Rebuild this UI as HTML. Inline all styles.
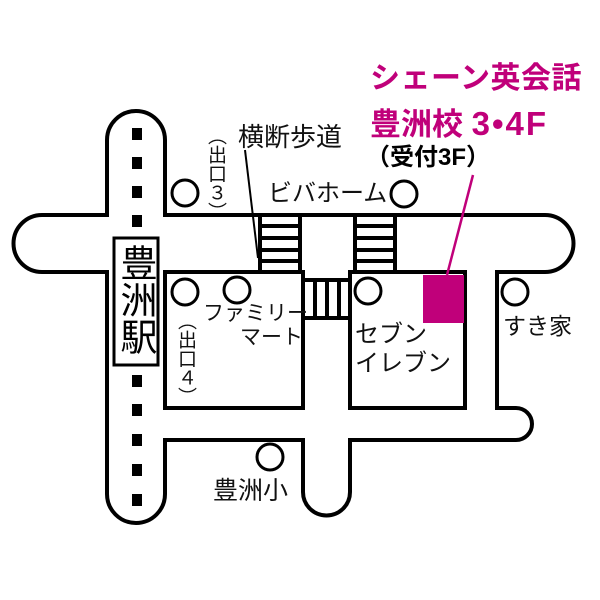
<!DOCTYPE html>
<html><head><meta charset="utf-8"><style>
body{margin:0;background:#fff;}
.w{position:relative;width:600px;height:600px;overflow:hidden;font-family:"Liberation Sans","Noto Sans CJK JP",sans-serif;}
.t{position:absolute;white-space:nowrap;color:#111;line-height:1;}
.v{writing-mode:vertical-rl;text-orientation:upright;}
</style></head><body><div class="w">
<svg width="600" height="600" style="position:absolute;left:0;top:0">
<g fill="none" stroke="#000" stroke-width="4">
<path d="M165 215 V140 A29 29 0 0 0 107 140 V215 H42 A28.5 28.5 0 0 0 42 272 H107 V494 A29 29 0 0 0 165 494 V440 H303 V492 A23.5 23.5 0 0 0 350 492 V440 H516 A16 16 0 0 0 516 408 H497 V272 H545 A28.5 28.5 0 0 0 545 215 Z"/>
<rect x="165" y="272" width="138" height="136"/>
<rect x="350" y="272" width="115" height="136"/>
<rect x="260" y="215" width="40" height="57"/>
<rect x="355" y="215" width="40" height="57"/>
<path d="M260 226H300M260 238H300M260 250H300M260 261H300M355 226H395M355 238H395M355 250H395M355 261H395"/>
<rect x="303" y="280" width="47" height="38"/>
<path d="M315 280V318M327 280V318M339 280V318"/>
<circle cx="185" cy="193" r="13" stroke-width="3"/>
<circle cx="404" cy="194" r="13" stroke-width="3"/>
<circle cx="185" cy="292" r="13" stroke-width="3"/>
<circle cx="237" cy="290" r="13" stroke-width="3"/>
<circle cx="368" cy="291" r="13" stroke-width="3"/>
<circle cx="515" cy="292" r="13" stroke-width="3"/>
<circle cx="270" cy="457" r="13" stroke-width="3"/>
</g>
<g fill="#000">
<rect x="132" y="128" width="10" height="12"/>
<rect x="132" y="157" width="10" height="12"/>
<rect x="132" y="186" width="10" height="12"/>
<rect x="132" y="215" width="10" height="12"/>
<rect x="132" y="375" width="10" height="12"/>
<rect x="132" y="404" width="10" height="12"/>
<rect x="132" y="434" width="10" height="12"/>
<rect x="132" y="464" width="10" height="12"/>
<rect x="132" y="494" width="10" height="12"/>
</g>
<rect x="114" y="238" width="44" height="127" fill="#fff" stroke="#000" stroke-width="3"/>
<rect x="423" y="275" width="41" height="48" fill="#c0007a"/>
<line x1="473" y1="175" x2="447" y2="275" stroke="#c0007a" stroke-width="2.5"/>
<line x1="245" y1="150" x2="258" y2="258" stroke="#000" stroke-width="2"/>
</svg>
<div class="t v" style="left:117px;top:244px;font-size:37px;color:#000">豊洲駅</div>
<div class="t" style="left:370px;top:64px;font-size:30px;font-weight:bold;color:#c0007a;letter-spacing:0.5px">シェーン英会話</div>
<div class="t" style="left:370px;top:107px;font-size:31px;font-weight:bold;color:#c0007a">豊洲校 <span style="font-size:33px;letter-spacing:2px">3•4F</span></div>
<div class="t" style="left:366px;top:146px;font-size:24px;font-weight:bold;color:#000">（受付3F）</div>
<div class="t" style="left:238px;top:124px;font-size:26px">横断歩道</div>
<div class="t v" style="left:206px;top:126px;font-size:19px">（出口３）</div>
<div class="t" style="left:268px;top:182px;font-size:24px">ビバホーム</div>
<div class="t" style="left:203px;top:303px;font-size:21px">ファミリー</div>
<div class="t" style="left:240px;top:327px;font-size:21px">マート</div>
<div class="t v" style="left:176px;top:311px;font-size:19px">（出口４）</div>
<div class="t" style="left:355px;top:323px;font-size:24px">セブン</div>
<div class="t" style="left:355px;top:352px;font-size:24px">イレブン</div>
<div class="t" style="left:503px;top:315px;font-size:23px">すき家</div>
<div class="t" style="left:213px;top:479px;font-size:25px">豊洲小</div>
</div></body></html>
